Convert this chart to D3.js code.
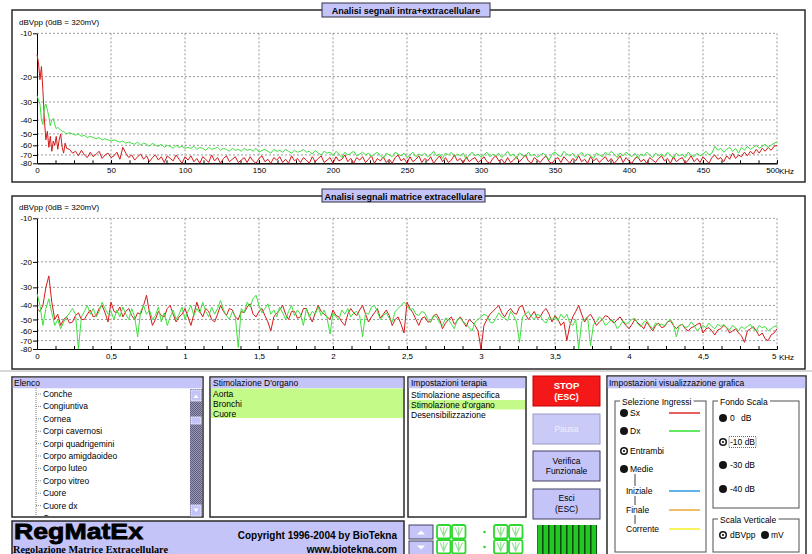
<!DOCTYPE html>
<html lang="it">
<head>
<meta charset="UTF-8">
<title>RegMatEx - Analisi segnali</title>
<script src="https://d3js.org/d3.v7.min.js"></script>
<style>
  body { margin: 0; background: #fff; }
  svg { display: block; }
</style>
</head>
<body>
<svg width="812" height="554"></svg>
<script>
// ---- data ----
const yTicks = [-10, -20, -30, -40, -50, -60, -70, -80];
const topXTicks = [0, 50, 100, 150, 200, 250, 300, 350, 400, 450, 500];
const bottomXTicks = [0, 0.5, 1, 1.5, 2, 2.5, 3, 3.5, 4, 4.5, 5];

// top chart: 0..20 kHz every 1, then 22..500 every 2
const topFreq = d3.range(0, 21, 1).concat(d3.range(22, 501, 2));
const topSx = [
  -14, -16, -21, -17, -25, -40, -55, -48, -62, -52, -66, -56, -60, -52, -64, -55, -50, -62, -68, -58, -63,
  -64, -68, -66, -71, -65, -70, -73, -67, -72, -69, -66, -74, -70, -68, -73, -71, -67, -75, -62, -68,
  -73, -70, -76, -72, -69, -75, -71, -78, -73, -70, -76, -72, -79, -71, -74, -77, -70, -75, -80, -72,
  -76, -71, -78, -74, -80, -72, -75, -79, -70, -77, -73, -80, -74, -71, -78, -75, -72, -79, -76, -73,
  -79, -72, -77, -80, -74, -71, -78, -75, -80, -73, -76, -72, -79, -75, -80, -71, -77, -74, -79, -73,
  -76, -80, -72, -78, -74, -71, -79, -76, -73, -80, -72, -77, -75, -70, -78, -74, -80, -73, -76, -72,
  -79, -75, -71, -80, -74, -77, -72, -79, -75, -80, -73, -70, -77, -74, -80, -72, -78, -75, -71, -79,
  -74, -77, -72, -80, -75, -71, -78, -73, -79, -76, -70, -77, -74, -80, -72, -78, -75, -73, -79, -76,
  -72, -78, -80, -74, -71, -77, -75, -80, -73, -79, -76, -72, -78, -74, -70, -77, -80, -73, -76, -79,
  -74, -71, -78, -80, -75, -73, -79, -72, -76, -80, -74, -77, -71, -78, -75, -80, -72, -77, -74, -79,
  -75, -72, -78, -74, -80, -76, -71, -79, -73, -77, -80, -74, -72, -78, -75, -80, -73, -76, -79, -74,
  -71, -77, -74, -80, -72, -78, -75, -73, -80, -76, -71, -78, -74, -79, -72, -76, -80, -73, -70, -75,
  -73, -78, -71, -75, -68, -74, -70, -72, -67, -71, -66, -69, -64, -68, -63, -66, -62, -65, -61, -60
];
const topDx = [
  -27, -29, -31, -40, -43, -33, -31, -34, -38, -44, -40, -39, -43, -46, -45, -46, -47, -48, -48, -49, -50,
  -49, -50, -51, -50, -52, -51, -53, -52, -53, -54, -53, -55, -54, -55, -56, -55, -56, -57, -56, -58,
  -57, -58, -59, -57, -60, -58, -59, -61, -58, -60, -61, -59, -62, -60, -61, -63, -60, -62, -61, -63,
  -62, -63, -61, -64, -62, -63, -65, -62, -64, -63, -62, -65, -63, -64, -66, -63, -65, -64, -66, -63,
  -65, -64, -66, -63, -67, -65, -64, -66, -68, -64, -66, -65, -67, -64, -66, -68, -65, -67, -66, -64,
  -67, -66, -69, -65, -68, -70, -66, -68, -67, -71, -66, -69, -73, -67, -70, -68, -66, -71, -69, -67,
  -70, -68, -72, -69, -67, -71, -74, -68, -70, -72, -67, -69, -71, -68, -73, -70, -67, -72, -69, -71,
  -68, -72, -70, -66, -71, -69, -74, -68, -70, -67, -72, -69, -71, -68, -75, -70, -67, -71, -69, -72,
  -70, -67, -72, -69, -71, -68, -73, -70, -66, -71, -69, -74, -68, -70, -72, -67, -71, -69, -73, -70,
  -68, -71, -76, -69, -67, -70, -72, -66, -69, -71, -68, -73, -70, -67, -72, -69, -71, -74, -68, -70,
  -72, -67, -70, -66, -69, -73, -68, -71, -67, -70, -72, -68, -74, -69, -71, -67, -70, -73, -68, -71,
  -69, -72, -67, -70, -74, -68, -71, -69, -73, -67, -70, -72, -68, -71, -69, -66, -70, -68, -61, -65,
  -63, -67, -64, -62, -66, -63, -68, -62, -65, -61, -64, -62, -60, -63, -61, -59, -62, -60, -58, -57
];

// bottom chart: 0..5 kHz every 0.02
const bottomSx = [
  -42, -44, -40, -30, -25, -38, -50, -46, -55, -50, -48, -53, -52, -47, -45, -50, -50, -46, -43, -48, -47, -42, -40, -45, -52,
  -38, -44, -45, -41, -48, -44, -42, -47, -50, -45, -46, -40, -34, -45, -55, -50, -44, -47, -48, -42, -40, -46, -52, -48, -46,
  -42, -48, -55, -46, -38, -44, -48, -42, -44, -50, -52, -46, -40, -44, -47, -42, -43, -48, -50, -44, -45, -41, -39, -46, -48,
  -44, -42, -47, -52, -60, -48, -45, -43, -40, -46, -50, -44, -44, -49, -48, -42, -42, -47, -52, -45, -40, -44, -46, -48, -50,
  -43, -47, -48, -52, -55, -46, -42, -45, -47, -43, -40, -46, -52, -48, -45, -42, -49, -46, -43, -47, -55, -50, -48, -54, -62,
  -38, -42, -45, -50, -55, -49, -48, -52, -52, -47, -46, -50, -58, -53, -50, -48, -54, -51, -48, -52, -56, -50, -52, -55, -60,
  -80, -55, -50, -46, -44, -42, -40, -45, -48, -44, -42, -45, -46, -41, -40, -46, -50, -47, -44, -49, -48, -44, -42, -46, -52,
  -47, -50, -55, -52, -70, -55, -48, -44, -40, -46, -52, -48, -46, -50, -55, -52, -50, -47, -48, -51, -53, -50, -48, -52, -55,
  -58, -54, -50, -53, -55, -58, -52, -56, -60, -55, -53, -57, -56, -52, -51, -55, -58, -55, -54, -58, -60, -57, -56, -54, -53,
  -62, -58, -57, -60, -64, -59, -58, -55, -57, -62, -60, -58, -62, -65, -72, -60, -58, -56, -60, -65, -62, -68, -70, -64, -62,
  -58
];
const bottomDx = [
  -33, -40, -55, -42, -36, -45, -55, -50, -58, -52, -48, -45, -42, -46, -80, -48, -44, -40, -46, -42, -48, -44, -38, -42, -46,
  -44, -50, -43, -48, -41, -46, -50, -42, -48, -66, -44, -40, -46, -43, -50, -47, -41, -52, -45, -55, -48, -43, -50, -46, -41,
  -50, -44, -40, -47, -42, -45, -38, -44, -48, -41, -46, -42, -37, -43, -47, -50, -44, -48, -78, -42, -45, -38, -41, -36, -34,
  -40, -45, -42, -39, -46, -43, -48, -41, -45, -50, -44, -40, -47, -43, -46, -55, -42, -48, -44, -46, -41, -47, -43, -49, -63,
  -45, -48, -50, -43, -46, -42, -48, -45, -44, -47, -66, -45, -46, -41, -40, -44, -50, -47, -45, -49, -52, -44, -42, -40, -38,
  -40, -43, -42, -46, -47, -44, -45, -50, -52, -47, -48, -53, -55, -49, -50, -54, -58, -50, -49, -52, -54, -57, -60, -52, -50,
  -48, -46, -47, -52, -53, -49, -45, -48, -49, -51, -44, -47, -52, -72, -48, -46, -44, -48, -50, -46, -47, -51, -53, -48, -50,
  -48, -51, -46, -49, -46, -53, -55, -50, -80, -52, -50, -48, -76, -54, -52, -48, -50, -55, -53, -50, -52, -58, -55, -51, -54,
  -52, -50, -49, -54, -56, -52, -51, -55, -58, -53, -55, -54, -55, -52, -50, -54, -66, -55, -54, -57, -56, -52, -55, -60, -57,
  -55, -57, -53, -56, -58, -54, -56, -54, -57, -59, -55, -57, -60, -56, -58, -56, -54, -58, -60, -55, -57, -56, -60, -58, -56,
  -55
];
const bottomFreq = bottomSx.map((_, i) => i * 0.02);

const elencoItems = ["Conche", "Congiuntiva", "Cornea", "Corpi cavernosi", "Corpi quadrigemini",
  "Corpo amigdaoideo", "Corpo luteo", "Corpo vitreo", "Cuore", "Cuore dx", "Cuore sx"];
const organItems = ["Aorta", "Bronchi", "Cuore"];
const therapyItems = ["Stimolazione aspecifica", "Stimolazione d'organo", "Desensibilizzazione"];

const FONT = "'Liberation Sans', Arial, sans-serif";
const LAV = "#c4c4f8";
const SEL = "#c4fa88";

const svg = d3.select("svg");

svg.append("line").attr("x1", 0).attr("x2", 812).attr("y1", 371).attr("y2", 371)
  .attr("stroke", "#d8d8d8").attr("stroke-width", 2);

function txt(g, x, y, s, o = {}) {
  return g.append("text").attr("x", x).attr("y", y).text(s)
    .attr("font-family", o.family || FONT)
    .attr("font-size", o.size || 8.5)
    .attr("font-weight", o.weight || "normal")
    .attr("fill", o.fill || "#000")
    .attr("text-anchor", o.anchor || "start");
}
function box(g, x, y, w, h, fill, stroke, sw) {
  return g.append("rect").attr("x", x).attr("y", y).attr("width", w).attr("height", h)
    .attr("fill", fill).attr("stroke", stroke || "none").attr("stroke-width", sw || 1);
}

// ---- spectrum charts ----
function drawChart(c) {
  const g = svg.append("g");
  box(g, c.frame[0], c.frame[1], c.frame[2], c.frame[3], "#fff", "#2a2a2a", 1.5);

  const x = d3.scaleLinear().domain([c.xTicks[0], c.xTicks[c.xTicks.length - 1]]).range([37, 777]);
  const y = d3.scaleLog().domain([-10, -80]).range([c.top, c.bottom]);

  g.selectAll(".hg").data(yTicks.slice(0, -1)).join("line")
    .attr("x1", x.range()[0]).attr("x2", x.range()[1])
    .attr("y1", d => y(d)).attr("y2", d => y(d))
    .attr("stroke", "#9a9a9a").attr("stroke-dasharray", "2,2");
  g.selectAll(".vg").data(c.xTicks.slice(1)).join("line")
    .attr("x1", d => x(d)).attr("x2", d => x(d))
    .attr("y1", c.top).attr("y2", c.bottom)
    .attr("stroke", "#9a9a9a").attr("stroke-dasharray", "2,2");

  const xmax = c.xTicks[c.xTicks.length - 1];
  const minor = d3.range(0, Math.round(xmax / c.minorStep) + 1).map(i => i * c.minorStep);
  g.append("g").attr("transform", `translate(0,${c.bottom})`)
    .call(d3.axisBottom(x).tickValues(minor).tickSize(-3).tickSizeOuter(0).tickFormat(""));
  const xa = g.append("g").attr("transform", `translate(0,${c.bottom})`)
    .call(d3.axisBottom(x).tickValues(c.xTicks).tickSize(-3).tickPadding(4).tickSizeOuter(0).tickFormat(c.fmt))
    .attr("font-family", FONT).attr("font-size", 8);
  xa.selectAll(".tick:last-of-type text").attr("text-anchor", "end").attr("x", c.lastShift);
  txt(g, 779, c.bottom + 10.5, "KHz", { size: 8 });

  g.append("g").attr("transform", "translate(37,0)")
    .call(d3.axisLeft(y).tickValues(yTicks).tickSize(4).tickPadding(1).tickSizeOuter(0).tickFormat(d => String(d)))
    .attr("font-family", FONT).attr("font-size", 8);

  txt(g, 19, c.top - 8.5, "dBVpp (0dB = 320mV)", { size: 8 });

  const line = d3.line().x(d => x(d[0])).y(d => y(d[1]));
  g.append("path").datum(c.sx.map((v, i) => [c.freq[i], v]))
    .attr("d", line).attr("fill", "none").attr("stroke", "#d41a1a").attr("stroke-width", 1);
  g.append("path").datum(c.dx.map((v, i) => [c.freq[i], v]))
    .attr("d", line).attr("fill", "none").attr("stroke", "#3ee03e").attr("stroke-width", 1);

  box(g, c.tab[0], c.tab[1], c.tab[2], c.tab[3], LAV, "#303040", 1);
  txt(g, c.tab[0] + c.tab[2] / 2, c.tab[1] + 10.5, c.title, { size: 9, weight: "bold", anchor: "middle" });
}

drawChart({
  frame: [12, 10, 793, 172], top: 33.3, bottom: 163.3, tab: [322, 3, 168, 14],
  title: "Analisi segnali intra+extracellulare", xTicks: topXTicks, minorStep: 12.5,
  fmt: d => String(d), lastShift: 2, freq: topFreq, sx: topSx, dx: topDx
});
drawChart({
  frame: [12, 196, 793, 173], top: 218.3, bottom: 349, tab: [322, 189, 163, 13],
  title: "Analisi segnali matrice extracellulare", xTicks: bottomXTicks, minorStep: 0.125,
  fmt: d => String(d).replace(".", ","), lastShift: -1, freq: bottomFreq, sx: bottomSx, dx: bottomDx
});

// ---- lower control panel ----
const ui = svg.append("g");
const defs = svg.append("defs");
const pat = defs.append("pattern").attr("id", "hatch").attr("width", 2).attr("height", 2)
  .attr("patternUnits", "userSpaceOnUse");
pat.append("rect").attr("width", 2).attr("height", 2).attr("fill", "#9a9ab8");
pat.append("rect").attr("width", 1).attr("height", 1).attr("fill", "#5c5c80");
pat.append("rect").attr("x", 1).attr("y", 1).attr("width", 1).attr("height", 1).attr("fill", "#5c5c80");
defs.append("clipPath").attr("id", "clipList").append("rect")
  .attr("x", 13).attr("y", 388).attr("width", 177).attr("height", 128);

// Elenco
box(ui, 12, 377, 191, 140, "#fff", "#2a2a2a", 1.5);
box(ui, 12.75, 377.75, 189.5, 10.5, LAV);
txt(ui, 14, 386, "Elenco");
const lg = ui.append("g").attr("clip-path", "url(#clipList)");
lg.append("line").attr("x1", 36).attr("x2", 36).attr("y1", 388).attr("y2", 520)
  .attr("stroke", "#808080").attr("stroke-dasharray", "1,1");
elencoItems.forEach((s, i) => {
  const by = 397 + i * 12.4;
  lg.append("line").attr("x1", 36).attr("x2", 42).attr("y1", by - 3).attr("y2", by - 3)
    .attr("stroke", "#808080").attr("stroke-dasharray", "1,1");
  txt(lg, 43, by, s);
});
box(ui, 190, 389, 12, 127, "url(#hatch)");
box(ui, 191, 390, 10, 11, LAV, "#e8e8ff", 0.8);
ui.append("path").attr("d", "M193.5,398 L196,394.5 L198.5,398 Z").attr("fill", "#fff");
box(ui, 191, 417, 10, 7, LAV, "#e8e8ff", 0.8);
box(ui, 191, 505, 10, 11, LAV, "#e8e8ff", 0.8);
ui.append("path").attr("d", "M193.5,508.5 L196,512 L198.5,508.5 Z").attr("fill", "#fff");

// Stimolazione D'organo
box(ui, 210, 377, 194, 140, "#fff", "#2a2a2a", 1.5);
box(ui, 210.75, 377.75, 192.5, 10.5, LAV);
txt(ui, 213, 386, "Stimolazione D'organo");
box(ui, 211, 388.5, 192, 29.5, SEL);
organItems.forEach((s, i) => txt(ui, 213, 397 + i * 9.8, s));

// Impostazioni terapia
box(ui, 408, 377, 118, 140, "#fff", "#2a2a2a", 1.5);
box(ui, 408.75, 377.75, 116.5, 10.5, LAV);
txt(ui, 411, 386, "Impostazioni terapia");
box(ui, 409, 400, 116, 9.5, SEL);
therapyItems.forEach((s, i) => txt(ui, 411, 398 + i * 10, s));

// buttons
box(ui, 533, 376, 67, 30, "#f41818", "#c00000", 1);
txt(ui, 566.5, 389, "STOP", { size: 9.5, weight: "bold", fill: "#fff", anchor: "middle" });
txt(ui, 566.5, 400, "(ESC)", { size: 9, weight: "bold", fill: "#fff", anchor: "middle" });
box(ui, 533, 414, 67, 30, "#cacaf6", "#9a9ac4", 1);
txt(ui, 566.5, 432, "Pausa", { size: 8.5, fill: "#eeeeff", anchor: "middle" });
box(ui, 533, 451, 67, 30, LAV, "#404060", 1);
txt(ui, 566.5, 463.5, "Verifica", { size: 8.5, anchor: "middle" });
txt(ui, 566.5, 473.5, "Funzionale", { size: 8.5, anchor: "middle" });
box(ui, 533, 489, 67, 30, LAV, "#404060", 1);
txt(ui, 566.5, 501, "Esci", { size: 8.5, anchor: "middle" });
txt(ui, 566.5, 511.5, "(ESC)", { size: 8.5, anchor: "middle" });

// logo banner
box(ui, 12, 521, 392, 40, LAV, "#2a2a2a", 1.5);
txt(ui, 14, 538.5, "RegMatEx", { size: 22, weight: "900" })
  .attr("textLength", 129).attr("lengthAdjust", "spacingAndGlyphs")
  .attr("stroke", "#000").attr("stroke-width", 0.8);
txt(ui, 13, 552.5, "Regolazione Matrice Extracellulare",
  { size: 9.5, weight: "bold", family: "'Liberation Serif', 'Times New Roman', serif" })
  .attr("textLength", 155).attr("lengthAdjust", "spacingAndGlyphs");
txt(ui, 397, 539, "Copyright 1996-2004 by BioTekna", { size: 10, weight: "bold", anchor: "end" });
txt(ui, 397, 552.5, "www.biotekna.com", { size: 10, weight: "bold", anchor: "end" });

// up / down spinners
box(ui, 409, 525, 24, 14, LAV, "#404060", 1);
ui.append("path").attr("d", "M417,534.5 L421,530.5 L425,534.5 Z").attr("fill", "#fff");
box(ui, 409, 541, 24, 14, LAV, "#404060", 1);
ui.append("path").attr("d", "M417,545.5 L421,549.5 L425,545.5 Z").attr("fill", "#fff");

// LCD digits
const lcdX = [437, 452, 494, 509];
lcdX.forEach(dx => {
  [525, 540].forEach(dy => {
    box(ui, dx, dy, 13.5, 13.5, "none", "#2ed82e", 1.8).attr("rx", 2);
    ui.append("path")
      .attr("d", `M${dx + 3},${dy + 2.5} L${dx + 6.7},${dy + 11} M${dx + 10.5},${dy + 2.5} L${dx + 6.7},${dy + 11} M${dx + 6.7},${dy + 2} V${dy + 12}`)
      .attr("stroke", "#90e090").attr("stroke-width", 1.1).attr("fill", "none");
  });
});
[532, 547].forEach(cy => ui.append("circle").attr("cx", 484.5).attr("cy", cy).attr("r", 1.3).attr("fill", "#2ed82e"));

// level bars
box(ui, 537, 525, 60, 30, "#0c3a0c");
d3.range(10).forEach(i => box(ui, 537.5 + i * 6, 525, 4.6, 30, "#22c822"));

// Impostazioni visualizzazione grafica
box(ui, 607, 376, 199, 190, "#fff", "#2a2a2a", 1.5);
box(ui, 607.75, 376.75, 197.5, 11.5, LAV);
txt(ui, 609, 386, "Impostazioni visualizzazione grafica");

function group(x, y, w, h, title) {
  box(ui, x + 0.5, y + 0.5, w, h, "none", "#fff", 1);
  box(ui, x, y, w, h, "none", "#505050", 1);
  const t = txt(ui, x + 7, y + 3.5, title);
  const bb = t.node().getBBox();
  box(ui, bb.x - 2, y - 2, bb.width + 4, 4, "#fff");
  t.raise();
}
group(615, 401, 91, 151, "Selezione Ingressi");
group(713, 401, 86, 107, "Fondo Scala");
group(713, 519, 86, 33, "Scala Verticale");

function radio(cx, cy, on) {
  ui.append("circle").attr("cx", cx).attr("cy", cy).attr("r", 4).attr("fill", "#141414");
  if (on) {
    ui.append("circle").attr("cx", cx).attr("cy", cy).attr("r", 2.5).attr("fill", "#fff");
    ui.append("circle").attr("cx", cx).attr("cy", cy).attr("r", 1.1).attr("fill", "#141414");
  }
}
const inputs = [["Sx", 413, false, "#e02a2a"], ["Dx", 431, false, "#2ee02e"], ["Entrambi", 451, true, null], ["Medie", 469, false, null]];
inputs.forEach(([s, cy, on, col]) => {
  radio(624, cy, on);
  txt(ui, 630, cy + 3, s);
  if (col) ui.append("line").attr("x1", 669).attr("x2", 700).attr("y1", cy).attr("y2", cy).attr("stroke", col).attr("stroke-width", 1.5);
});
[[474, 486], [496, 505], [515, 524]].forEach(([a, b]) =>
  ui.append("line").attr("x1", 635).attr("x2", 635).attr("y1", a).attr("y2", b).attr("stroke", "#404040"));
[["Iniziale", 491, "#2a9ae4"], ["Finale", 510, "#e8a838"], ["Corrente", 529, "#f4f028"]].forEach(([s, cy, col]) => {
  txt(ui, 626, cy + 3, s);
  ui.append("line").attr("x1", 669).attr("x2", 700).attr("y1", cy).attr("y2", cy).attr("stroke", col).attr("stroke-width", 1.5);
});

[["0", 418, false], ["-10 dB", 442, true], ["-30 dB", 465, false], ["-40 dB", 489, false]].forEach(([s, cy, on]) => {
  radio(723, cy, on);
  txt(ui, 730, cy + 3, s);
});
txt(ui, 741, 421, "dB");
box(ui, 729, 436.5, 27, 11, "none", "#404040", 0.8).attr("stroke-dasharray", "1,1");

radio(723, 535, true);
txt(ui, 730, 538, "dBVpp");
radio(765, 535, false);
txt(ui, 771, 538, "mV");
</script>
</body>
</html>
